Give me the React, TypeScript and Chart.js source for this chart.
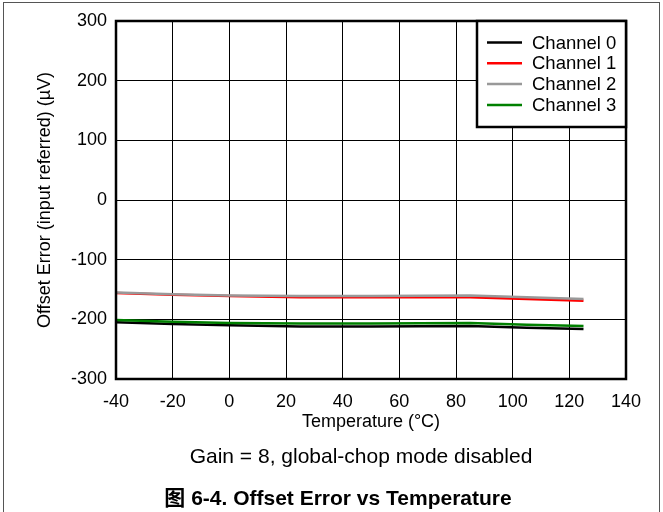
import React, { useEffect, useRef } from "react";
import { Chart, registerables } from "chart.js";

Chart.register(...registerables);

const temperatures = [-40, -20, 0, 25, 50, 85, 105, 125];
const channel0 = [-205, -208, -210, -212, -212, -211, -214, -216];
const channel1 = [-156, -159, -161, -163, -163, -163, -166, -169];
const channel2 = [-155, -158, -160, -161, -161, -160, -163, -166];
const channel3 = [-201, -204, -206, -207, -207, -206, -209, -211];

const seriesNames = ["Channel 0", "Channel 1", "Channel 2", "Channel 3"];
const seriesColors = ["#000000", "#ff0000", "#999999", "#008000"];
const seriesValues = [channel0, channel1, channel2, channel3];

const xTitle = "Temperature (°C)";
const yTitle = "Offset Error (input referred) (µV)";
const noteText = "Gain = 8, global-chop mode disabled";
const captionText = "图 6-4. Offset Error vs Temperature";

const FONT = "Arial, 'Liberation Sans', Helvetica, 'Noto Sans CJK SC', sans-serif";

const decorPlugin = {
  id: "decor",
  afterDraw(chart: any) {
    const { ctx, chartArea } = chart;
    const { left, top, right, bottom } = chartArea;
    ctx.save();
    // outer frame
    ctx.strokeStyle = "#555555";
    ctx.lineWidth = 1;
    ctx.strokeRect(3.5, 2.5, 656, 530);
    // plot frame
    ctx.strokeStyle = "#000000";
    ctx.lineWidth = 2.5;
    ctx.strokeRect(left, top, right - left, bottom - top);
    // legend
    const lx = 477;
    const ly = top;
    const lw = right - lx;
    const lh = 106;
    ctx.fillStyle = "#ffffff";
    ctx.fillRect(lx, ly, lw, lh);
    ctx.lineWidth = 2.5;
    ctx.strokeStyle = "#000000";
    ctx.strokeRect(lx, ly, lw, lh);
    ctx.font = `18.5px ${FONT}`;
    ctx.textBaseline = "middle";
    ctx.textAlign = "left";
    chart.data.datasets.forEach((ds: any, i: number) => {
      const cy = ly + 21.5 + i * 20.8;
      ctx.strokeStyle = ds.borderColor;
      ctx.lineWidth = 2.5;
      ctx.beginPath();
      ctx.moveTo(487, cy);
      ctx.lineTo(522, cy);
      ctx.stroke();
      ctx.fillStyle = "#000000";
      ctx.fillText(ds.label, 532, cy + 1);
    });
    // notes
    ctx.fillStyle = "#000000";
    ctx.textAlign = "center";
    ctx.font = `21px ${FONT}`;
    ctx.fillText(noteText, 361, 457);
    ctx.font = `bold 21px ${FONT}`;
    ctx.fillText(captionText, 338, 499);
    ctx.restore();
  },
};

export default function App() {
  const canvasRef = useRef<HTMLCanvasElement | null>(null);

  useEffect(() => {
    const canvas = canvasRef.current;
    if (!canvas) return;
    const chart = new Chart(canvas, {
      type: "line",
      data: {
        datasets: seriesNames.map((name, i) => ({
          label: name,
          data: temperatures.map((t, j) => ({ x: t, y: seriesValues[i][j] })),
          borderColor: seriesColors[i],
          backgroundColor: seriesColors[i],
          borderWidth: 2.5,
          pointRadius: 0,
          tension: 0,
          fill: false,
          order: seriesNames.length - i,
        })),
      },
      options: {
        responsive: false,
        animation: false,
        layout: { padding: { left: 30, right: 37, top: 21, bottom: 75.5 } },
        plugins: {
          legend: { display: false },
          tooltip: { enabled: false },
          title: { display: false },
        },
        scales: {
          x: {
            type: "linear",
            min: -40,
            max: 140,
            afterFit: (scale: any) => {
              scale.height = 57.5;
            },
            ticks: {
              stepSize: 20,
              padding: 12,
              color: "#000000",
              font: { size: 18, family: FONT },
              maxRotation: 0,
            },
            grid: { color: "#000000", lineWidth: 1, drawTicks: false },
            border: { display: false },
            title: {
              display: true,
              text: xTitle,
              color: "#000000",
              font: { size: 18, family: FONT },
            },
          },
          y: {
            type: "linear",
            min: -300,
            max: 300,
            afterFit: (scale: any) => {
              scale.width = 86;
            },
            ticks: {
              stepSize: 100,
              padding: 9,
              color: "#000000",
              font: { size: 18, family: FONT },
            },
            grid: { color: "#000000", lineWidth: 1, drawTicks: false },
            border: { display: false },
            title: {
              display: true,
              text: yTitle,
              color: "#000000",
              font: { size: 18, family: FONT },
            },
          },
        },
      },
      plugins: [decorPlugin],
    } as any);
    return () => chart.destroy();
  }, []);

  return (
    <div style={{ position: "absolute", left: 0, top: 0, width: 663, height: 512, background: "#ffffff" }}>
      <canvas ref={canvasRef} width={663} height={512} style={{ display: "block" }} />
    </div>
  );
}
